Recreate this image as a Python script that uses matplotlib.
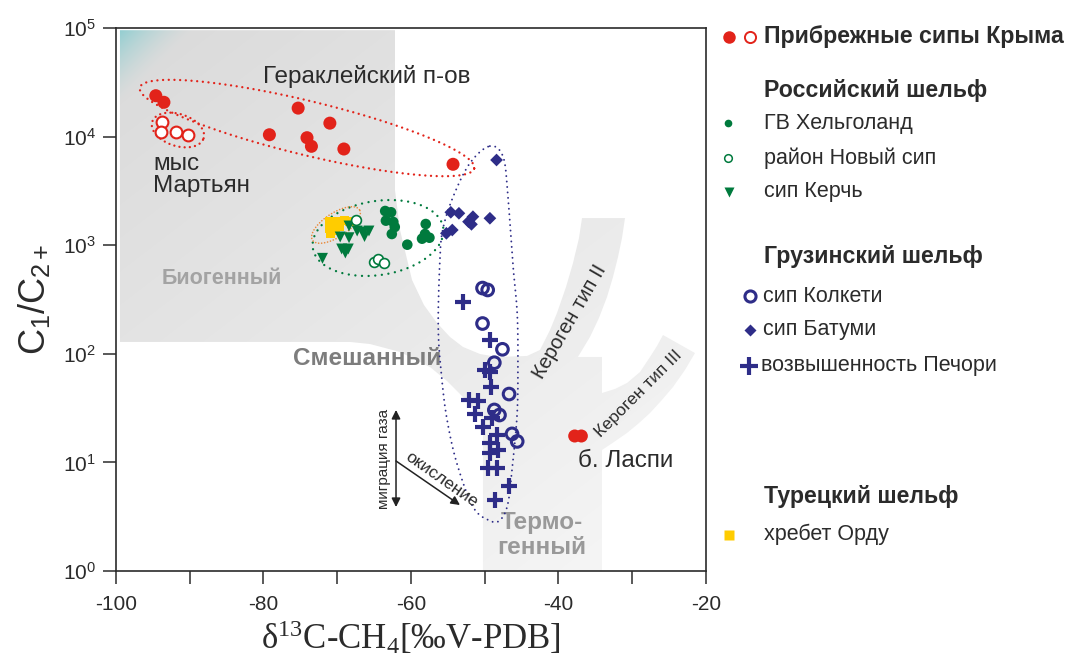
import numpy as np
import matplotlib
matplotlib.use("Agg")
import matplotlib.pyplot as plt
from matplotlib.patches import PathPatch
from matplotlib.path import Path
from matplotlib.ticker import MultipleLocator, NullLocator, LogLocator

plt.rcParams['font.family'] = ['Liberation Sans', 'DejaVu Sans']
plt.rcParams['mathtext.fontset'] = 'custom'
plt.rcParams['mathtext.rm'] = 'Liberation Serif'
plt.rcParams['mathtext.sf'] = 'Liberation Sans'
plt.rcParams['mathtext.it'] = 'Liberation Serif:italic'
plt.rcParams['axes.unicode_minus'] = False

# --- данные (δ13C-CH4, C1/C2+) ---
# Прибрежные сипы Крыма
heraclea_d13c = [-94.6, -93.5, -75.3, -71.0, -79.2, -74.1, -73.5, -69.1, -54.3]
heraclea_ratio = [23800, 20700, 18300, 13300, 10400, 9770, 8140, 7690, 5560]
martyan_d13c = [-93.8, -93.9, -91.8, -90.3]
martyan_ratio = [13600, 10960, 10960, 10400]
laspi_d13c = [-37.8, -36.9]
laspi_ratio = [17.5, 17.5]
# Российский шельф
helgoland_d13c = [-63.5, -62.7, -63.4, -62.4, -62.2, -62.6, -60.5, -58.0, -58.1, -58.5, -57.5]
helgoland_ratio = [2065, 2010, 1683, 1636, 1471, 1268, 1011, 1567, 1268, 1148, 1172]
newseep_d13c = [-67.5, -64.95, -64.5, -63.6]
newseep_ratio = [1695, 700, 746, 681]
kerch_d13c = [-68.4, -67.3, -66.5, -65.7, -66.3, -69.6, -68.4, -69.4, -68.5, -68.9, -72.0]
kerch_ratio = [1503, 1351, 1324, 1351, 1202, 1190, 1172, 923, 923, 848, 757]
# Турецкий шельф
ordu_d13c = [-71.05, -71.05, -70.85, -70.03, -69.08, -68.4, -69.76, -70.17]
ordu_ratio = [1670, 1410, 1295, 1670, 1706, 1670, 1471, 1352]
# Грузинский шельф
batumi_d13c = [-48.4, -54.6, -53.5, -51.6, -52.2, -51.8, -49.3, -54.4, -55.2]
batumi_ratio = [6090, 2010, 1967, 1830, 1646, 1557, 1770, 1380, 1287]
kolkheti_d13c = [-50.3, -49.6, -50.3, -47.6, -48.7, -46.7, -48.7, -48.0, -46.3, -45.6]
kolkheti_ratio = [403, 387, 190, 110, 82.8, 42.6, 30.4, 27.3, 18.3, 15.6]
pechori_d13c = [-52.9, -49.3, -50.0, -49.3, -49.1, -52.1, -50.9, -51.3, -50.3, -49.0,
                -48.3, -49.3, -48.2, -49.3, -49.5, -48.4, -46.7, -48.6]
pechori_ratio = [302, 134, 71, 68, 49.5, 37.5, 37.1, 27.9, 21.0, 25.6,
                 17.9, 15.0, 13.0, 12.1, 8.8, 8.8, 6.1, 4.5]

# контур генетических полей (δ13C, lg(C1/C2+))
zone_outline = [(-99.46, 4.98), (-62.17, 4.98), (-62.17, 3.508), (-61.49, 3.140), (-59.86, 2.680),
                (-58.24, 2.449), (-56.47, 2.284), (-54.71, 2.155), (-52.95, 2.063), (-50.64, 1.998),
                (-48.34, 1.971), (-44.27, 1.980), (-42.51, 2.035), (-41.15, 2.219), (-40.20, 2.376),
                (-38.98, 2.615), (-38.03, 2.836), (-37.22, 3.066), (-36.81, 3.250), (-30.98, 3.250),
                (-31.39, 3.066), (-31.93, 2.891), (-32.61, 2.707), (-33.42, 2.523), (-34.51, 2.330),
                (-35.73, 2.155), (-37.36, 1.971), (-34.10, 1.971), (-34.10, 1.639), (-32.34, 1.676),
                (-30.71, 1.731), (-28.95, 1.832), (-27.59, 1.971), (-26.64, 2.072), (-25.83, 2.173),
                (-21.49, 2.007), (-22.85, 1.851), (-24.47, 1.694), (-25.97, 1.575), (-27.59, 1.455),
                (-29.22, 1.354), (-30.71, 1.271), (-32.47, 1.188), (-34.10, 1.114), (-34.10, 0.0),
                (-50.24, 0.0), (-50.24, 1.390), (-52.95, 1.602), (-55.12, 1.750), (-57.42, 1.878),
                (-61.49, 2.017), (-65.56, 2.090), (-68.27, 2.109), (-99.46, 2.109)]

# контур группы Грузинского шельфа
georgia_outline_d13c = [-49.3, -47.5, -46.85, -46.2, -45.6, -45.5, -45.6, -46.2, -46.85, -47.9,
                        -49.3, -51.6, -53.8, -55.1, -55.8, -56.3, -56.1, -55.7, -54.3, -52.0]
georgia_outline_ratio = [8180, 6490, 2780, 685, 238, 82, 28.5, 9.9, 4.2, 2.95,
                         2.9, 3.9, 9.9, 24.5, 57, 166, 685, 1380, 2780, 5710]

RED = '#e2231a'
GREEN = '#007a3d'
NAVY = '#2e2d88'
YELLOW = '#ffcc00'
ORANGE = '#e98a3a'
DARK = '#2b2b2b'

X0, X1 = -100, -20
DEC = 5

fig = plt.figure(figsize=(10.7, 6.56), dpi=100)
ax = fig.add_axes([0.1084, 0.1296, 0.5514, 0.8277])
ax.set_yscale('log')
ax.set_xlim(X0, X1)
ax.set_ylim(1, 10 ** DEC)
ax.set_autoscale_on(False)

pos = ax.get_position()
axw = pos.width * fig.get_figwidth() * fig.dpi
axh = pos.height * fig.get_figheight() * fig.dpi


def to_frac(x, r):
    return (np.asarray(x) - X0) / (X1 - X0), np.log10(r) / DEC


def from_frac(u, v):
    return X0 + (X1 - X0) * u, 10 ** (DEC * v)


def ellipse(x0, r0, a, b, ang):
    t = np.linspace(0, 2 * np.pi, 300)
    th = np.radians(ang)
    u0, v0 = to_frac(x0, r0)
    uu = u0 + (a * np.cos(t) * np.cos(th) - b * np.sin(t) * np.sin(th)) / axw
    vv = v0 + (a * np.cos(t) * np.sin(th) + b * np.sin(t) * np.cos(th)) / axh
    return from_frac(uu, vv)


def smooth_closed(x, r, n=20):
    u, v = to_frac(x, r)
    P = np.column_stack([u * axw, v * axh])
    k = len(P)
    t = np.linspace(0, 1, n, endpoint=False)[:, None]
    segs = []
    for i in range(k):
        p0, p1, p2, p3 = P[i - 1], P[i], P[(i + 1) % k], P[(i + 2) % k]
        segs.append(0.5 * (2 * p1 + (-p0 + p2) * t + (2 * p0 - 5 * p1 + 4 * p2 - p3) * t ** 2
                           + (-p0 + 3 * p1 - 3 * p2 + p3) * t ** 3))
    segs.append(segs[0][:1])
    S = np.vstack(segs)
    return from_frac(S[:, 0] / axw, S[:, 1] / axh)


# фон: серые поля с градиентом
N = 400
u = np.linspace(0, 1, N)[None, :]
v = np.linspace(1, 0, N)[:, None]
t = np.clip(0.5 * u + 0.6 * (1 - v) - 0.05, 0, 1)
g = (219 + 27 * t) / 255
w = np.clip(1 - (u * axw + (1 - v) * axh) / 80, 0, 1) ** 1.5
teal = np.array([140, 205, 208]) / 255
img = np.empty((N, N, 3))
for c in range(3):
    img[..., c] = g * (1 - w) + teal[c] * w
im = ax.imshow(img, extent=(0, 1, 0, 1), transform=ax.transAxes, aspect='auto',
               origin='upper', zorder=0, interpolation='bilinear')
zx = [p[0] for p in zone_outline]
zy = [10 ** p[1] for p in zone_outline]
zone = PathPatch(Path(np.column_stack([zx, zy])), transform=ax.transData,
                 facecolor='none', edgecolor='none')
ax.add_patch(zone)
im.set_clip_path(zone)

# пунктирные контуры групп
dots = dict(dash_capstyle='round', zorder=3)
ex, ey = ellipse(-74.10, 12000, 172, 27, -13.6)
ax.plot(ex, ey, color=RED, lw=1.7, ls=(0, (0.01, 2.4)), **dots)
ex, ey = ellipse(-91.6, 11500, 27, 16, -18)
ax.plot(ex, ey, color=RED, lw=1.7, ls=(0, (0.01, 2.2)), **dots)
ex, ey = ellipse(-64.47, 1165, 66, 37, 9)
ax.plot(ex, ey, color=GREEN, lw=1.7, ls=(0, (0.01, 2.8)), **dots)
ex, ey = ellipse(-70.17, 1535, 28, 12, 33)
ax.plot(ex, ey, color=ORANGE, lw=1.2, ls=(0, (0.01, 1.8)), **dots)
ex, ey = smooth_closed(georgia_outline_d13c, georgia_outline_ratio)
ax.plot(ex, ey, color=NAVY, lw=1.4, ls=(0, (0.01, 2.8)), **dots)

# точки
ax.scatter(heraclea_d13c, heraclea_ratio, s=88, color=RED, edgecolors='none', zorder=4)
ax.scatter(martyan_d13c, martyan_ratio, s=72, facecolors='white', edgecolors=RED, linewidths=1.5, zorder=4)
ax.scatter(laspi_d13c, laspi_ratio, s=88, color=RED, edgecolors='none', zorder=4)
ax.scatter(ordu_d13c, ordu_ratio, s=42, marker='s', color=YELLOW, edgecolors='none', zorder=4)
ax.scatter(kerch_d13c, kerch_ratio, s=62, marker='v', color=GREEN, edgecolors='none', zorder=4)
ax.scatter(helgoland_d13c, helgoland_ratio, s=58, color=GREEN, edgecolors='none', zorder=4)
ax.scatter(newseep_d13c, newseep_ratio, s=50, facecolors='white', edgecolors=GREEN, linewidths=1.2, zorder=4)
ax.scatter(batumi_d13c, batumi_ratio, s=42, marker='D', color=NAVY, edgecolors='none', zorder=4)
ax.scatter(pechori_d13c, pechori_ratio, s=125, marker='+', color=NAVY, linewidths=3, zorder=4)
ax.scatter(kolkheti_d13c, kolkheti_ratio, s=70, facecolors='none', edgecolors=NAVY, linewidths=2.2, zorder=4)

# подписи на поле графика
ax.text(-65.97, 36100, 'Гераклейский п-ов', fontsize=17.5, color=DARK, ha='center', va='center', zorder=5)
ax.text(-94.98, 4430, 'мыс\nМартьян', fontsize=17.5, color=DARK, ha='left', va='center',
        linespacing=1.05, zorder=5)
ax.text(-30.85, 10.3, 'б. Ласпи', fontsize=17.5, color=DARK, ha='center', va='center', zorder=5)
ax.text(-85.63, 489, 'Биогенный', fontsize=15.5, fontweight='bold', color='#a3a3a3',
        ha='center', va='center', zorder=2)
ax.text(-65.97, 89.6, 'Смешанный', fontsize=17.5, fontweight='bold', color='#7d7d7d',
        ha='center', va='center', zorder=2)
ax.text(-42.24, 2.15, 'Термо-\nгенный', fontsize=17.5, fontweight='bold', color='#999999',
        ha='center', va='center', linespacing=1.15, zorder=2)
ax.text(-38.44, 196, 'Кероген тип II', fontsize=14.5, color=DARK, rotation=60,
        rotation_mode='anchor', ha='center', va='center', zorder=5)
ax.text(-29.08, 42.6, 'Кероген тип III', fontsize=12.5, color=DARK, rotation=45,
        rotation_mode='anchor', ha='center', va='center', zorder=5)
ax.text(-63.66, 10.75, 'миграция газа', fontsize=11, color=DARK, rotation=90,
        rotation_mode='anchor', ha='center', va='center', zorder=5)
ax.text(-55.80, 6.89, 'окисление', fontsize=12.5, color=DARK, rotation=-35,
        rotation_mode='anchor', ha='center', va='center', zorder=5)
ax.annotate('', xy=(-62.03, 30.4), xytext=(-62.03, 3.88),
            arrowprops=dict(arrowstyle='<|-|>', color='#222222', lw=1.1, mutation_scale=13,
                            shrinkA=0, shrinkB=0), zorder=5)
ax.annotate('', xy=(-53.36, 4.05), xytext=(-62.03, 10.3),
            arrowprops=dict(arrowstyle='-|>', color='#222222', lw=1.1, mutation_scale=13,
                            shrinkA=0, shrinkB=0), zorder=5)

# оси
ax.xaxis.set_major_locator(MultipleLocator(20))
ax.xaxis.set_minor_locator(MultipleLocator(10))
ax.yaxis.set_major_locator(LogLocator(base=10, numticks=10))
ax.yaxis.set_minor_locator(NullLocator())
ax.tick_params(which='both', direction='out', length=9.5, width=1.1, color=DARK)
ax.tick_params(which='major', labelsize=15, pad=5, labelcolor=DARK)
ax.tick_params(axis='x', which='major', pad=8)
for s in ax.spines.values():
    s.set_linewidth(1.2)
    s.set_color(DARK)
ax.set_xlabel('δ$^{\\mathrm{13}}$C-CH$_{\\mathrm{4}}$[‰V-PDB]', fontsize=25,
              family='Liberation Serif', color=DARK)
ax.xaxis.set_label_coords(0.5, -0.088)
ax.set_ylabel('C$_{\\mathsf{1}}$/C$_{\\mathsf{2+}}$', fontsize=26, color=DARK)
ax.yaxis.set_label_coords(-0.105, 0.5)

# легенда справа (в пикселях рисунка)
lax = fig.add_axes([0, 0, 1, 1])
lax.set_xlim(0, 1070)
lax.set_ylim(656, 0)
lax.axis('off')
lax.plot(729, 37, 'o', ms=9, color=RED, mec='none')
lax.plot(750, 37, 'o', ms=8, mfc='white', mec=RED, mew=1.4)
lax.plot(728, 123, 'o', ms=5.5, color=GREEN, mec='none')
lax.plot(728, 158, 'o', ms=5.5, mfc='white', mec=GREEN, mew=1.1)
lax.plot(729, 192, 'v', ms=6.5, color=GREEN, mec='none')
lax.plot(750, 296, 'o', ms=8, mfc='none', mec=NAVY, mew=2.2)
lax.plot(750, 330, 'D', ms=6, color=NAVY, mec='none')
lax.plot(749, 366, '+', ms=13, color=NAVY, mew=3)
lax.plot(729, 535, 's', ms=7.5, color=YELLOW, mec='none')

bold = dict(fontsize=16.7, fontweight='bold', color=DARK, ha='left', va='center')
reg = dict(fontsize=15.5, color=DARK, ha='left', va='center')
lax.text(764, 37, 'Прибрежные сипы Крыма', **bold)
lax.text(764, 90, 'Российский шельф', **bold)
lax.text(764, 123, 'ГВ Хельголанд', **reg)
lax.text(764, 158, 'район Новый сип', **reg)
lax.text(764, 192, 'сип Керчь', **reg)
lax.text(764, 256, 'Грузинский шельф', **bold)
lax.text(763, 296, 'сип Колкети', **reg)
lax.text(763, 330, 'сип Батуми', **reg)
lax.text(761, 366, 'возвышенность Печори', **reg)
lax.text(764, 497, 'Турецкий шельф', **bold)
lax.text(764, 534, 'хребет Орду', **reg)

fig.savefig('out.png', dpi=100)
